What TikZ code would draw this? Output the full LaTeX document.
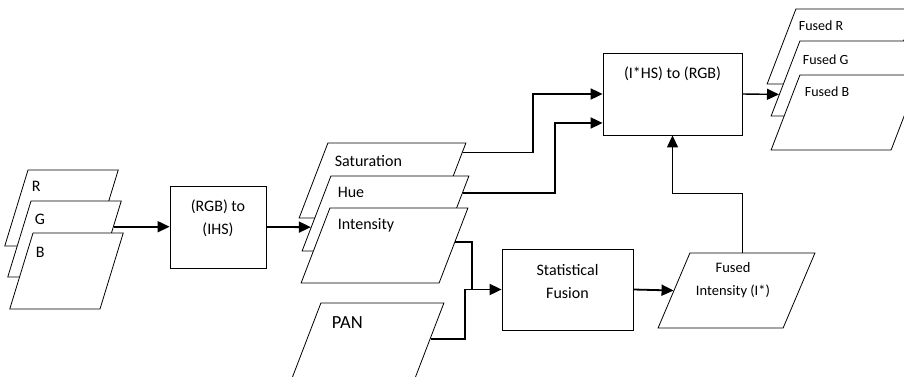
\documentclass[tikz,border=0pt]{standalone}
\usepackage{fontspec}
\setmainfont{Carlito}
\usetikzlibrary{shapes.geometric, arrows.meta, positioning, calc}

\tikzset{
    band/.style={draw, fill=white, line width=0.8pt, trapezium,
        trapezium left angle=69, trapezium right angle=111,
        inner ysep=37.5pt, inner xsep=#1},
    rgbband/.style={band=33.5pt, trapezium left angle=73, trapezium right angle=107,
        inner ysep=38pt},
    proc/.style={draw, line width=0.8pt, inner sep=0pt, minimum height=82pt},
    lbl/.style={inner sep=0pt, anchor=base west, font=\fontsize{16}{18}\selectfont},
    txt/.style={inner sep=0pt, align=center, font=\fontsize{16}{23}\selectfont},
    conn/.style={line width=1.8pt, -{Triangle[length=12pt, width=11pt]}},
    wire/.style={line width=1.8pt},
}

\begin{document}
\begin{tikzpicture}[x=1pt, y=-1pt]
    \useasboundingbox (0,0) rectangle (904,376);

    % 输入 RGB 波段
    \node[rgbband] (R) at (61.5,208) {};
    \node[rgbband] (G) at (64.5,239) {};
    \node[rgbband] (B) at (66.5,271) {};
    \node[lbl] (tR) at ($(R.top left corner)+(4,22)$) {R};
    \node[lbl] (tG) at ($(G.top left corner)+(4,24)$) {G};
    \node[lbl] (tB) at ($(B.top left corner)+(3,25)$) {B};

    % 变换框
    \node[proc, minimum width=96pt] (rgb2ihs) at (218,227) {};
    \node[txt] (trgb2ihs) at (218,218.5) {(RGB) to\\(IHS)};
    \node[proc, minimum width=139pt] (ihs2rgb) at (672.5,94) {};
    \node[txt] (tihs2rgb) at (672.5,74) {(I*HS) to (RGB)};
    \node[proc, minimum width=131pt, minimum height=81pt] (sf) at (567.5,289.5) {};
    \node[txt] (tsf) at (567.5,281) {Statistical\\Fusion};

    % IHS 分量
    \node[band=54.6pt] (sat) at (382.5,180.5) {};
    \node[band=54.6pt] (hue) at (385.5,213.5) {};
    \node[band=54.6pt] (int) at (384.5,245.5) {};
    \node[lbl] (tsat) at ($(sat.top left corner)+(7,24)$) {Saturation};
    \node[lbl] (thue) at ($(hue.top left corner)+(7,22)$) {Hue};
    \node[lbl] (tint) at ($(int.top left corner)+(8,22)$) {Intensity};

    % 全色波段
    \node[band=47.1pt] (pan) at (368,340.5) {};
    \node[lbl, font=\fontsize{18.5}{20}\selectfont] (tpan) at ($(pan.top left corner)+(11,26)$) {PAN};

    % 融合后的亮度
    \node[band=46.6pt, trapezium left angle=67, trapezium right angle=113] (fi) at (736.5,290.5) {};
    \node[txt, font=\fontsize{14.5}{23}\selectfont] (tfi) at (733,280.5) {Fused\\Intensity (I*)};

    % 输出波段
    \node[band=45.6pt] (fR) at (841.5,46.5) {};
    \node[band=45.6pt] (fG) at (845.5,78.5) {};
    \node[band=45.6pt] (fB) at (845.5,112.5) {};
    \node[lbl, font=\fontsize{14}{18}\selectfont] (tfR) at ($(fR.top left corner)+(3,22)$) {Fused R};
    \node[lbl, font=\fontsize{14}{18}\selectfont] (tfG) at ($(fG.top left corner)+(3,24)$) {Fused G};
    \node[lbl, font=\fontsize{14}{18}\selectfont] (tfB) at ($(fB.top left corner)+(5,22)$) {Fused B};

    % 连线
    \draw[conn] ($(G.top right corner)!.34!(G.bottom right corner)$) coordinate (g1)
        -- (g1 -| rgb2ihs.west);
    \draw[conn] (rgb2ihs.east) -- ($(hue.top left corner)!.68!(hue.bottom left corner)$);
    \coordinate (in2) at ($(ihs2rgb.south west)!.15!(ihs2rgb.north west)$);
    \draw[conn] ($(sat.top right corner)!.13!(sat.bottom right corner)$)
        -| ($(ihs2rgb.west)+(-70,0)$) -- (ihs2rgb.west);
    \draw[conn] ($(hue.top right corner)!.23!(hue.bottom right corner)$)
        -| ($(in2)+(-48,0)$) -- (in2);
    \draw[wire] ($(int.top right corner)!.45!(int.bottom right corner)$)
        -| ($(sf.west)+(-30,0)$);
    \draw[conn] ($(pan.top right corner)!.48!(pan.bottom right corner)$)
        -| ($(sf.west)+(-37,0)$) -- (sf.west);
    \draw[conn] (sf.east) -- ($(fi.top left corner)!.5!(fi.bottom left corner)$);
    \draw[conn, line width=1.2pt] ($(fi.top left corner)!.42!(fi.top right corner)$)
        |- ($(ihs2rgb.south)+(0,58)$) -- (ihs2rgb.south);
    \draw[conn, line width=1.4pt] (ihs2rgb.east)
        -- ($(fG.top left corner)!.71!(fG.bottom left corner)$);
\end{tikzpicture}
\end{document}
